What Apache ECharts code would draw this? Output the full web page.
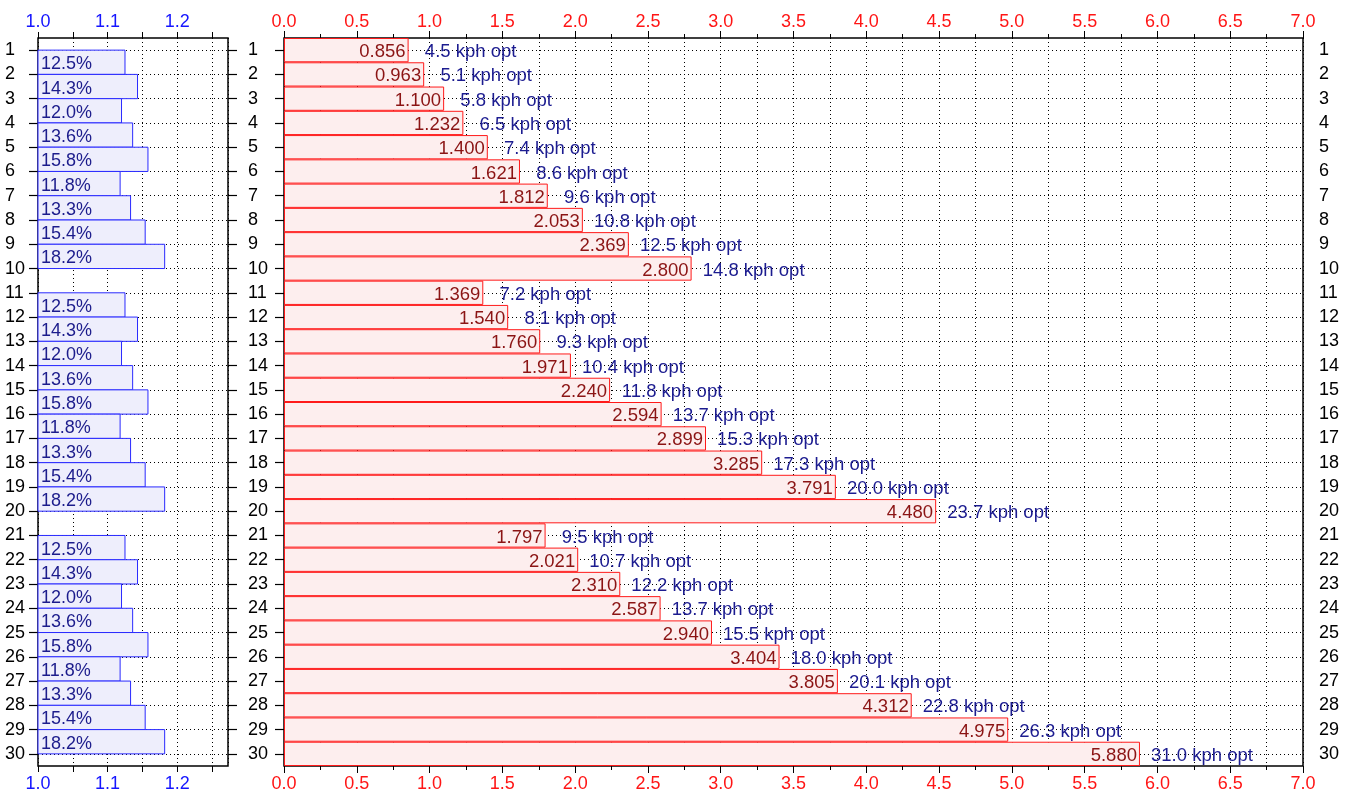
<!DOCTYPE html>
<html>
<head>
<meta charset="utf-8">
<script src="https://cdn.jsdelivr.net/npm/echarts@6/dist/echarts.min.js"></script>
<style>
  html, body { margin: 0; padding: 0; background: #fff; }
  #main { width: 1359px; height: 795px; }
</style>
</head>
<body>
<div id="main"></div>
<script>
  // gears 1..30
  var gears = [];
  for (var g = 1; g <= 30; g++) gears.push(String(g));

  // development (right panel bars)
  var devValues = [0.856, 0.963, 1.100, 1.232, 1.400, 1.621, 1.812, 2.053, 2.369, 2.800,
                   1.369, 1.540, 1.760, 1.971, 2.240, 2.594, 2.899, 3.285, 3.791, 4.480,
                   1.797, 2.021, 2.310, 2.587, 2.940, 3.404, 3.805, 4.312, 4.975, 5.880];
  // optimal speed label per gear
  var kphOpt = [4.5, 5.1, 5.8, 6.5, 7.4, 8.6, 9.6, 10.8, 12.5, 14.8,
                7.2, 8.1, 9.3, 10.4, 11.8, 13.7, 15.3, 17.3, 20.0, 23.7,
                9.5, 10.7, 12.2, 13.7, 15.5, 18.0, 20.1, 22.8, 26.3, 31.0];
  // step between gear i and i+1, in percent (null = no step shown)
  var stepPct = [12.5, 14.3, 12.0, 13.6, 15.8, 11.8, 13.3, 15.4, 18.2, null,
                 12.5, 14.3, 12.0, 13.6, 15.8, 11.8, 13.3, 15.4, 18.2, null,
                 12.5, 14.3, 12.0, 13.6, 15.8, 11.8, 13.3, 15.4, 18.2];

  var FONT = 'Liberation Sans, Arial, Helvetica, sans-serif';
  var FS = 18;

  var stepData = [];
  stepPct.forEach(function (p, i) {
    if (p !== null) stepData.push([1 + p / 100, i, p]);
  });

  var dotted = { show: true, lineStyle: { color: '#000', type: [1, 3], width: 1 } };

  function xAxisLeft(pos) {
    return {
      gridIndex: 0, type: 'value', position: pos, min: 1.0, max: 1.273, interval: 0.05,
      axisLine: { show: false },
      axisTick: { show: true, length: 6, lineStyle: { color: '#000' } },
      axisLabel: {
        color: '#1515ff', fontSize: FS, fontFamily: FONT, margin: pos === 'top' ? 7 : 9, showMaxLabel: false,
        formatter: function (v) {
          var r = Math.round(v * 100);
          return r % 10 === 0 ? (r / 100).toFixed(1) : '';
        }
      },
      splitLine: pos === 'top' ? dotted : { show: false }
    };
  }

  function xAxisRight(pos) {
    return {
      gridIndex: 1, type: 'value', position: pos, min: 0, max: 7, interval: 0.5,
      axisLine: { show: false },
      axisTick: { show: true, length: 7, lineStyle: { color: '#000' } },
      minorTick: { show: true, splitNumber: 2, length: 4, lineStyle: { color: '#000' } },
      axisLabel: {
        color: '#ff1515', fontSize: FS, fontFamily: FONT, margin: pos === 'top' ? 7 : 9,
        formatter: function (v) { return v.toFixed(1); }
      },
      splitLine: pos === 'top' ? dotted : { show: false },
      minorSplitLine: pos === 'top' ? dotted : { show: false }
    };
  }

  function yAxis(grid, pos, showLabel, margin, withGrid) {
    return {
      gridIndex: grid, type: 'category', data: gears, inverse: true, position: pos,
      axisLine: { show: false },
      axisTick: { show: true, alignWithLabel: true, length: 9, lineStyle: { color: '#000', width: 1.2 } },
      axisLabel: {
        show: showLabel, color: '#000', fontSize: FS, fontFamily: FONT, margin: margin,
        align: 'left', padding: [4, 0, 0, 0]
      },
      splitLine: withGrid ? { show: true, alignWithLabel: true, lineStyle: { color: '#000', type: [1, 3], width: 1 } } : { show: false }
    };
  }

  var myChart = echarts.init(document.getElementById('main'));
  var option = {
    animation: false,
    textStyle: { fontFamily: FONT },
    grid: [
      { left: 38, right: 1131, top: 38, bottom: 29, show: true, borderColor: '#000', borderWidth: 1.5, backgroundColor: 'transparent' },
      { left: 284, right: 56, top: 38, bottom: 29, show: true, borderColor: '#000', borderWidth: 1.5, backgroundColor: 'transparent' }
    ],
    xAxis: [xAxisLeft('top'), xAxisLeft('bottom'), xAxisRight('top'), xAxisRight('bottom')],
    yAxis: [
      yAxis(0, 'left', true, 33, true),
      yAxis(0, 'right', false, 10, false),
      yAxis(1, 'left', true, 36, true),
      yAxis(1, 'right', true, 16, false)
    ],
    series: [
      {
        type: 'custom',
        xAxisIndex: 0, yAxisIndex: 0,
        encode: { x: 0, y: 1 },
        data: stepData,
        renderItem: function (params, api) {
          var i = api.value(1);
          var p0 = api.coord([1.0, i]);
          var p1 = api.coord([api.value(0), i + 1]);
          return {
            type: 'group',
            children: [
              {
                type: 'rect',
                shape: { x: p0[0], y: p0[1], width: p1[0] - p0[0], height: p1[1] - p0[1] },
                style: { fill: '#eeeefc', stroke: '#2a2aff', lineWidth: 1 }
              },
              {
                type: 'text',
                x: p0[0] + 3, y: (p0[1] + p1[1]) / 2 + 2,
                style: {
                  text: api.value(2).toFixed(1) + '%', fill: '#1c1c8c',
                  font: FS + 'px ' + FONT, verticalAlign: 'middle', align: 'left'
                }
              }
            ]
          };
        }
      },
      {
        type: 'bar',
        xAxisIndex: 2, yAxisIndex: 2,
        data: devValues,
        barWidth: '100%',
        itemStyle: { color: '#fdeeee', borderColor: '#ff1a1a', borderWidth: 1 },
        label: {
          show: true, position: 'insideRight', distance: 3, offset: [0, 2],
          color: '#8b1414', fontSize: 18.5, fontFamily: FONT,
          formatter: function (p) { return p.value.toFixed(3); }
        }
      },
      {
        type: 'bar',
        xAxisIndex: 2, yAxisIndex: 2,
        data: devValues,
        barWidth: '100%',
        barGap: '-100%',
        itemStyle: { color: 'rgba(0,0,0,0)' },
        label: {
          show: true, position: 'right', distance: 62, align: 'center', offset: [0, 2],
          color: '#1c1c90', fontSize: 18.5, fontFamily: FONT,
          formatter: function (p) { return kphOpt[p.dataIndex].toFixed(1) + ' kph opt'; }
        }
      }
    ]
  };
  myChart.setOption(option);
</script>
</body>
</html>
